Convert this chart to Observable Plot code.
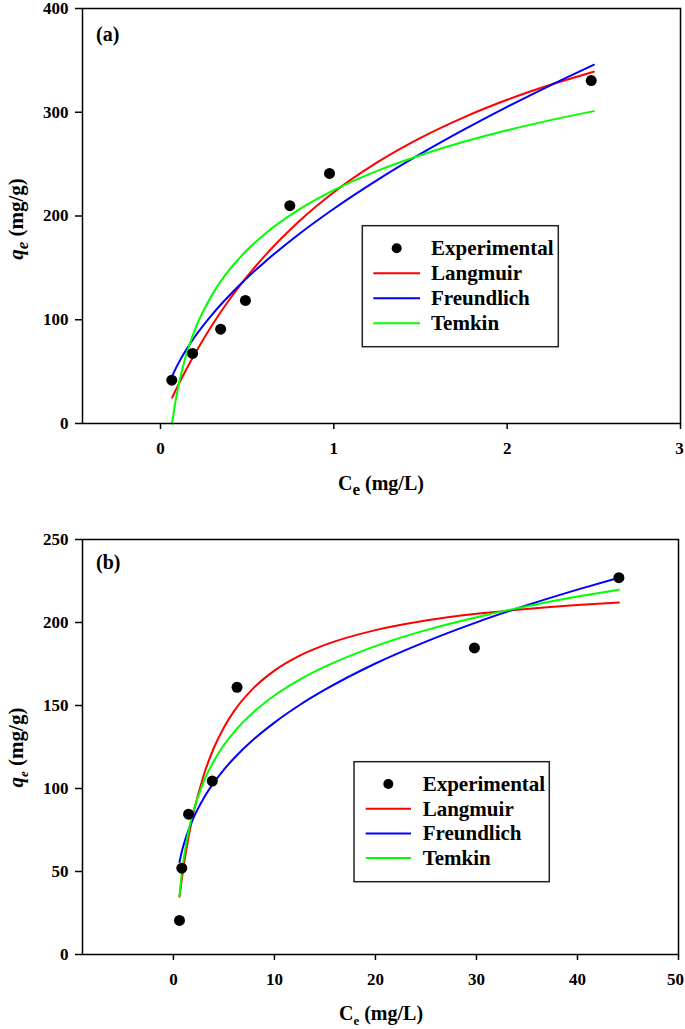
<!DOCTYPE html>
<html><head><meta charset="utf-8">
<script src="https://cdn.jsdelivr.net/npm/d3@7"></script>
<script src="https://cdn.jsdelivr.net/npm/@observablehq/plot@0.6"></script>
<style>body{margin:0;background:#fff}svg{display:block}</style>
</head><body><div id="chart"></div>
<script>
const modelNames = ["Langmuir", "Freundlich", "Temkin"];
const modelColors = ["#ff0000", "#0000ff", "#00ff00"];
const legendLabels = ["Experimental", "Langmuir", "Freundlich", "Temkin"];

// Panel (a)
const expA_Ce = [0.065, 0.185, 0.347, 0.49, 0.746, 0.975, 2.485];
const expA_qe = [41.8, 67.5, 90.9, 118.6, 210, 241, 330.5];
const fitA_Ce = [0.067, 0.08, 0.1, 0.15, 0.2, 0.3, 0.4, 0.5, 0.6, 0.8, 1.0, 1.25, 1.5, 1.75, 2.0, 2.25, 2.5];
const langA_qe = [24.9, 29.4, 36.3, 52.6, 67.8, 95.5, 120, 141.8, 161.4, 195, 222.9, 251.6, 275.3, 295.1, 312, 326.5, 339.1];
const freuA_qe = [45.6, 50.3, 57.0, 71.5, 84.1, 105.5, 123.9, 140.4, 155.5, 182.7, 207, 234.6, 259.8, 283.2, 305.2, 326.0, 345.8];
const temkA_qe = [0, 14.8, 33.3, 67.1, 91.0, 124.7, 148.7, 167.2, 182.4, 206.3, 224.9, 243.5, 258.6, 271.5, 282.6, 292.4, 301.1];
const xTicksA = [0, 1, 2, 3];
const yTicksA = [0, 100, 200, 300, 400];

// Panel (b)
const expB_Ce = [0.6, 0.83, 1.5, 3.85, 6.3, 29.8, 44.1];
const expB_qe = [20.5, 52, 84.5, 104.5, 161, 184.7, 227];
const fitB_Ce = [0.6, 0.8, 1, 1.5, 2, 3, 4, 5, 6, 8, 10, 12.5, 15, 20, 25, 30, 35, 40, 44.1];
const langB_qe = [34.8, 44.1, 52.6, 70.8, 85.5, 108, 124.4, 136.8, 146.6, 160.9, 171, 180, 186.5, 195.4, 201.2, 205.2, 208.2, 210.5, 212];
const freuB_qe = [55.7, 61.2, 65.8, 75.1, 82.5, 94.2, 103.5, 111.4, 118.2, 129.9, 139.7, 150.3, 159.5, 175.3, 188.5, 200.1, 210.4, 219.8, 227];
const temkB_qe = [35.0, 47.4, 56.9, 74.4, 86.8, 104.2, 116.6, 126.2, 134.0, 146.4, 156.0, 165.6, 173.4, 185.8, 195.4, 203.2, 209.8, 215.6, 219.8];
const xTicksB = [0, 10, 20, 30, 40, 50];
const yTicksB = [0, 50, 100, 150, 200, 250];

const FONT = '"Liberation Serif", "Times New Roman", Times, serif';

function fitTable(xs, series) {
  const rows = [];
  series.forEach((ys, k) => xs.forEach((c, i) => rows.push({Ce: c, qe: ys[i], model: modelNames[k]})));
  return rows;
}
function expTable(xs, ys) { return xs.map((c, i) => ({Ce: c, qe: ys[i]})); }

function panel(o) {
  const svg = Plot.plot({
    width: 685, height: o.height,
    marginTop: o.mt, marginBottom: o.mb, marginLeft: 82, marginRight: o.mr,
    x: {domain: o.xDomain, label: null},
    y: {domain: o.yDomain, label: null},
    color: {domain: modelNames, range: modelColors},
    style: {fontFamily: FONT, fontSize: "17px", fontWeight: "bold", color: "#000", background: "#fff"},
    marks: [
      Plot.line(o.fit, {x: "Ce", y: "qe", z: "model", stroke: "model", strokeWidth: 2, curve: "monotone-x"}),
      Plot.dot(o.exp, {x: "Ce", y: "qe", r: 5.5, fill: "#000"}),
      Plot.frame({stroke: "#000", strokeWidth: 1.5}),
      Plot.axisX({ticks: o.xTicks, tickFormat: d => String(d), tickSize: 6, tickPadding: 12, strokeWidth: 1.5, label: null}),
      Plot.axisY({ticks: o.yTicks, tickFormat: d => String(d), tickSize: 7, tickPadding: 7, strokeWidth: 1.5, label: null})
    ]
  });
  const s = d3.select(svg);
  // keep the right-most x tick label inside the window
  const xLabels = s.selectAll('g[aria-label="x-axis tick label"] text').nodes();
  if (xLabels.length) d3.select(xLabels[xLabels.length - 1]).attr("dx", o.lastDx);
  const g = s.append("g").attr("font-family", FONT).attr("font-weight", "bold").attr("fill", "#000");
  // panel tag
  g.append("text").attr("x", 96).attr("y", o.tagY).attr("font-size", 20).attr("text-anchor", "start").text(o.tag);
  // y title
  const yt = g.append("text").attr("transform", `translate(23,${o.yTitleY}) rotate(-90)`)
    .attr("text-anchor", "middle").attr("font-size", 21);
  yt.append("tspan").attr("font-style", "italic").text("q");
  yt.append("tspan").attr("font-style", "italic").attr("font-size", o.subSize).attr("dy", 5).text("e");
  yt.append("tspan").attr("dy", -5).text(" (mg/g)");
  // x title
  const xt = g.append("text").attr("x", 381).attr("y", o.xTitleY).attr("text-anchor", "middle").attr("font-size", 20);
  xt.append("tspan").text("C");
  xt.append("tspan").attr("font-size", o.subSize).attr("dy", 5).text("e");
  xt.append("tspan").attr("dy", -5).text(" (mg/L)");
  // legend
  const L = o.legend;
  g.append("rect").attr("x", L.x0).attr("y", L.y0).attr("width", L.x1 - L.x0).attr("height", L.y1 - L.y0)
    .attr("fill", "#fff").attr("stroke", "#222").attr("stroke-width", 1.5);
  legendLabels.forEach((name, i) => {
    const cy = L.rowY + i * L.step;
    if (i === 0) {
      g.append("circle").attr("cx", L.dotX).attr("cy", cy).attr("r", 5).attr("fill", "#000");
    } else {
      g.append("line").attr("x1", L.lx0).attr("x2", L.lx1).attr("y1", cy).attr("y2", cy)
        .attr("stroke", modelColors[i - 1]).attr("stroke-width", 2);
    }
    g.append("text").attr("x", L.tx).attr("y", cy + 7).attr("font-size", 21).attr("text-anchor", "start").text(name);
  });
  return svg;
}

const root = document.getElementById("chart");
root.appendChild(panel({
  height: 510, mt: 8, mb: 87, mr: 5, lastDx: -1,
  xDomain: [-0.45, 3], yDomain: [0, 400], xTicks: xTicksA, yTicks: yTicksA,
  fit: fitTable(fitA_Ce, [langA_qe, freuA_qe, temkA_qe]), exp: expTable(expA_Ce, expA_qe),
  tag: "(a)", tagY: 41, yTitleY: 219, xTitleY: 490, subSize: 17,
  legend: {x0: 362.3, x1: 558.3, y0: 225.7, y1: 346.7, rowY: 248.3, step: 25, dotX: 396.7, lx0: 373.3, lx1: 420, tx: 431}
}));
root.appendChild(panel({
  height: 519, mt: 29, mb: 75, mr: 7, lastDx: -3,
  xDomain: [-9, 50], yDomain: [0, 250], xTicks: xTicksB, yTicks: yTicksB,
  fit: fitTable(fitB_Ce, [langB_qe, freuB_qe, temkB_qe]), exp: expTable(expB_Ce, expB_qe),
  tag: "(b)", tagY: 59, yTitleY: 237.5, xTitleY: 510, subSize: 13,
  legend: {x0: 354, x1: 549.3, y0: 251.7, y1: 371.7, rowY: 274, step: 24.7, dotX: 388.3, lx0: 365.7, lx1: 411, tx: 422.7}
}));
</script>
</body></html>
